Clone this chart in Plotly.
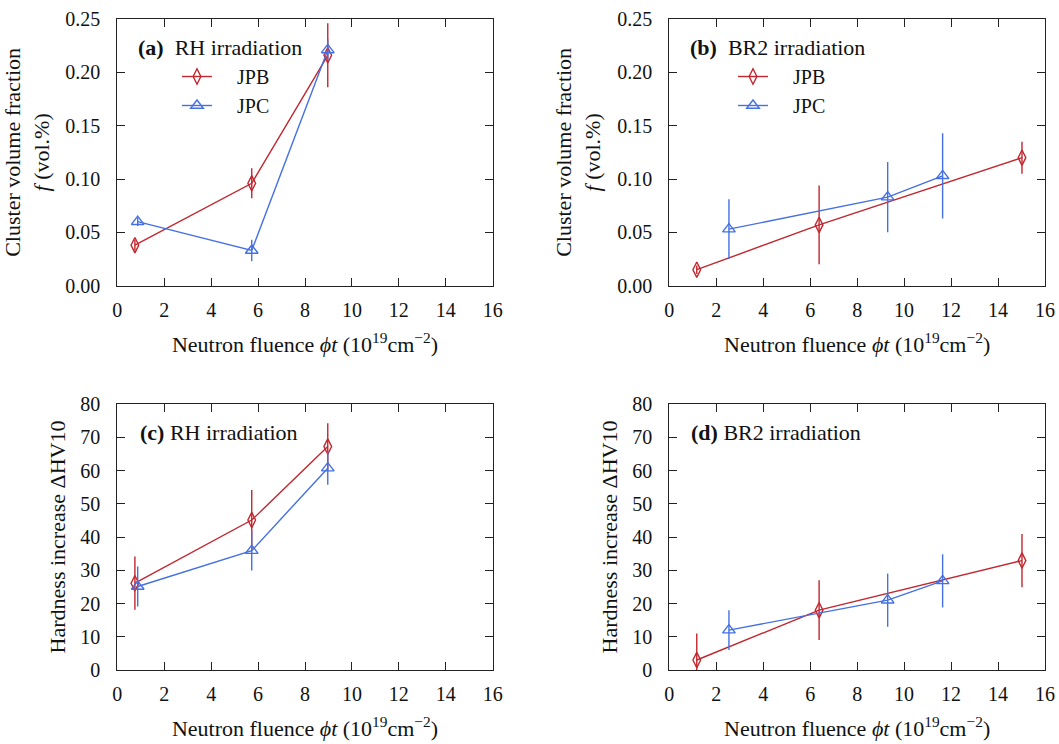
import plotly.graph_objects as go

# ---------------- data ----------------
rh_jpb_x = [0.75, 5.73, 8.97]
rh_jpb_f = [0.038, 0.096, 0.216]
rh_jpb_f_err = [0.005, 0.014, 0.030]
rh_jpc_x = [0.87, 5.73, 8.97]
rh_jpc_f = [0.060, 0.033, 0.221]
rh_jpc_f_err = [0.004, 0.010, 0.010]

br_jpb_x = [1.17, 6.38, 15.02]
br_jpb_f = [0.015, 0.057, 0.120]
br_jpb_f_err = [0.004, 0.037, 0.015]
br_jpc_x = [2.54, 9.30, 11.64]
br_jpc_f = [0.053, 0.083, 0.103]
br_jpc_f_err = [0.028, 0.033, 0.040]

rh_jpb_hv = [26.1, 45.1, 67.2]
rh_jpb_hv_err = [8, 9, 7]
rh_jpc_hv = [25.1, 35.9, 60.7]
rh_jpc_hv_err = [6, 6, 5]

br_jpb_hv = [3.0, 18.0, 32.9]
br_jpb_hv_err = [8, 9, 8]
br_jpc_hv = [12.0, 21.0, 26.8]
br_jpc_hv_err = [6, 8, 8]

x_ticks = [0, 2, 4, 6, 8, 10, 12, 14, 16]
f_ticks = [0.0, 0.05, 0.10, 0.15, 0.20, 0.25]
hv_ticks = [0, 10, 20, 30, 40, 50, 60, 70, 80]

RED = "#c2262e"
BLUE = "#4470e2"
FONT = "Liberation Serif"
FS = 22      # titles, labels
LFS = 20     # legend
TFS = 20     # tick labels
INK = "#111"

fig = go.Figure()

PAD = "\u00a0\u00a0\u00a0\u00a0"


def add(x, y, err, color, symbol, name, xa, ya, legend="legend", showlegend=False):
    fig.add_trace(go.Scatter(
        x=x, y=y, mode="lines+markers", name=PAD + name,
        line=dict(color=color, width=1.4),
        marker=dict(symbol=symbol, size=11, color=color,
                    line=dict(color=color, width=1.4)),
        error_y=dict(type="data", array=err, visible=True, color=color,
                     thickness=1.4, width=0),
        xaxis=xa, yaxis=ya, showlegend=showlegend,
        legend=legend, legendgroup=name + legend,
    ))


add(rh_jpb_x, rh_jpb_f, rh_jpb_f_err, RED, "diamond-tall-open", "JPB", "x", "y", "legend", True)
add(rh_jpc_x, rh_jpc_f, rh_jpc_f_err, BLUE, "triangle-up-open", "JPC", "x", "y", "legend", True)
add(br_jpb_x, br_jpb_f, br_jpb_f_err, RED, "diamond-tall-open", "JPB", "x2", "y2", "legend2", True)
add(br_jpc_x, br_jpc_f, br_jpc_f_err, BLUE, "triangle-up-open", "JPC", "x2", "y2", "legend2", True)
add(rh_jpb_x, rh_jpb_hv, rh_jpb_hv_err, RED, "diamond-tall-open", "JPB", "x3", "y3")
add(rh_jpc_x, rh_jpc_hv, rh_jpc_hv_err, BLUE, "triangle-up-open", "JPC", "x3", "y3")
add(br_jpb_x, br_jpb_hv, br_jpb_hv_err, RED, "diamond-tall-open", "JPB", "x4", "y4")
add(br_jpc_x, br_jpc_hv, br_jpc_hv_err, BLUE, "triangle-up-open", "JPC", "x4", "y4")

W, H = 1059, 744
xl = [117.3 / W, 492.7 / W]
xr = [669.3 / W, 1045.0 / W]
yt = [1 - 285.7 / H, 1 - 19.0 / H]
yb = [1 - 670.0 / H, 1 - 404.0 / H]

xtitle = "Neutron fluence <i>ϕt</i> (10<sup>19</sup>cm<sup>−2</sup>)"

common = dict(showline=True, linecolor="#222", linewidth=1.3, mirror="ticks",
              ticks="inside", ticklen=8, tickwidth=1.1, tickcolor="#222",
              showgrid=False, zeroline=False, automargin=False,
              tickfont=dict(family=FONT, size=TFS, color=INK))


def xaxis(domain, anchor):
    return dict(common, domain=domain, anchor=anchor, range=[0, 16],
                tickvals=x_ticks, ticktext=[str(v) for v in x_ticks],
                ticklabelstandoff=6,
                title=dict(text=xtitle, font=dict(family=FONT, size=FS, color=INK), standoff=16))


def yaxis(domain, anchor, rng, vals, txt, title, standoff):
    return dict(common, domain=domain, anchor=anchor, range=rng,
                tickvals=vals, ticktext=txt, ticklabelstandoff=12,
                title=dict(text=title, font=dict(family=FONT, size=FS, color=INK), standoff=standoff))


f_txt = ["%.2f" % v for v in f_ticks]
hv_txt = [str(v) for v in hv_ticks]
ftitle = "Cluster volume fraction<br><i>f</i> (vol.%)"
htitle = "Hardness increase ΔHV10"

legend_common = dict(xanchor="left", yanchor="top", bgcolor="rgba(0,0,0,0)",
                     font=dict(family=FONT, size=LFS, color=INK),
                     traceorder="grouped", tracegroupgap=0)

fig.update_layout(
    width=W, height=H,
    margin=dict(l=0, r=0, t=0, b=0),
    paper_bgcolor="white", plot_bgcolor="white",
    font=dict(family=FONT, size=FS, color=INK),
    xaxis=xaxis(xl, "y"),
    yaxis=yaxis(yt, "x", [0, 0.25], f_ticks, f_txt, ftitle, 10),
    xaxis2=xaxis(xr, "y2"),
    yaxis2=yaxis(yt, "x2", [0, 0.25], f_ticks, f_txt, ftitle, 10),
    xaxis3=xaxis(xl, "y3"),
    yaxis3=yaxis(yb, "x3", [0, 80], hv_ticks, hv_txt, htitle, 8),
    xaxis4=xaxis(xr, "y4"),
    yaxis4=yaxis(yb, "x4", [0, 80], hv_ticks, hv_txt, htitle, 8),
    legend=dict(legend_common, x=177 / W, y=1 - 57 / H),
    legend2=dict(legend_common, x=733 / W, y=1 - 57 / H),
)

labels = [("(a)", "RH irradiation", 136 / W, 1 - 48 / H),
          ("(b)", "BR2 irradiation", 688 / W, 1 - 48 / H),
          ("(c)", "RH irradiation", 138 / W, 1 - 432 / H),
          ("(d)", "BR2 irradiation", 689 / W, 1 - 432 / H)]
for tag, txt, x, y in labels:
    fig.add_annotation(x=x, y=y, xref="paper", yref="paper", xanchor="left", yanchor="middle",
                       text="<b>%s</b>%s" % (tag, ("\u00a0\u00a0" if tag in ("(a)", "(b)") else "\u00a0") + txt),
                       showarrow=False, font=dict(family=FONT, size=FS, color=INK))

fig.write_html("out.html")
